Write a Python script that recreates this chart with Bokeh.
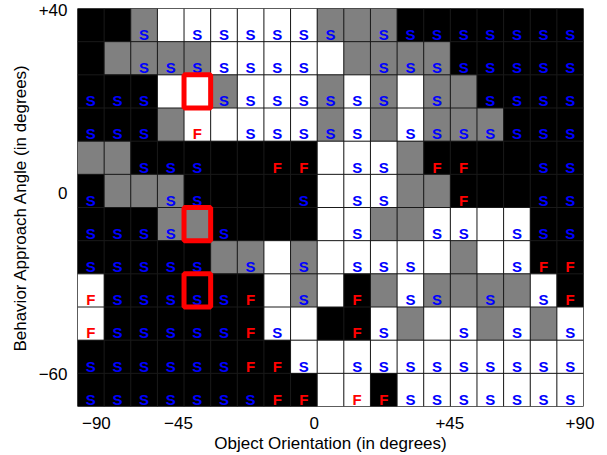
from bokeh.plotting import figure
from bokeh.models import ColumnDataSource, FixedTicker
from bokeh.embed import file_html
from bokeh.resources import INLINE
from bokeh.core.properties import value

# 19 object-orientation columns (-90 .. +90 deg), 12 approach-angle rows (top to bottom)
orientations = list(range(-90, 91, 10))

# cell shading per row: B = black, G = gray, W = white
row_shades = [
    "BBGWWWWWWGGGBBBBBBB",
    "BGGGGWWWWWGGGGBBBBB",
    "BBBWWGWWWGWGWGGBBBB",
    "BBBGWWWWWGWGWGGGBBB",
    "GGBBBBBBBWWWGBBBBBB",
    "BGGGBBBBBWWWGGBBBBB",
    "BBBGGBBBBWWGGWWWWBB",
    "BBBBBGGWGWWWWWGWWBB",
    "WBBBBBBWGWBGWGGGGWB",
    "WBBBBBBWWBBWGWWGWGW",
    "BBBBBBBBWWWWWWWWWWW",
    "BBBBBBBBBWWBWWWWWWW",
]

# outcome per cell: S = success, F = failure, . = none
row_marks = [
    "..S.SSSSSS.SSSSSSSS",
    "..SSSSSSS..SSSSSSSS",
    "SSS..SSSSSSS.S.SSSS",
    "SSS.F.SSSSS.SSSSSSS",
    "..SSS..FF.SS.FF..SS",
    "S..SS...S.SS..F..SS",
    "SSSS.S....S..SS.SSS",
    "SSSSS.S.S.SSS...SFF",
    "FSSSSSF.S.F.SS.S.SF",
    "FSSSSSFS..FS..S.S.S",
    "SSSSSSFFS.SSSSSSSSS",
    "SSSSSSSFF.FFSSSSSSS",
]

# highlighted cells (row index from top, column index from left)
highlight_rows = [2, 6, 8]
highlight_cols = [4, 4, 4]

x_tick_pos = [0.21, 3.29, 8.39, 13.48, 18.37]
x_tick_labels = ["\u221290", "\u221245", "0", "+45", "+90"]
y_tick_pos = [11.95, 6.45, 0.97]
y_tick_labels = ["+40", "0", "\u221260"]

shade_color = {"B": "#000000", "G": "#808080", "W": "#ffffff"}
mark_color = {"S": "#0000ff", "F": "#ff0000"}

n_rows = len(row_shades)
n_cols = len(orientations)

cx, cy, fills = [], [], []
tx, ty, tt, tc = [], [], [], []
for r in range(n_rows):
    for c in range(n_cols):
        yc = n_rows - 0.5 - r
        cx.append(c)
        cy.append(yc)
        fills.append(shade_color[row_shades[r][c]])
        m = row_marks[r][c]
        if m in mark_color:
            tx.append(c)
            ty.append(yc - 0.28)
            tt.append(m)
            tc.append(mark_color[m])

# cell boundary lines
gx0, gy0, gx1, gy1 = [], [], [], []
for i in range(n_cols + 1):
    gx0.append(i - 0.5); gx1.append(i - 0.5); gy0.append(0); gy1.append(n_rows)
for j in range(n_rows + 1):
    gx0.append(-0.5); gx1.append(n_cols - 0.5); gy0.append(j); gy1.append(j)

cells = ColumnDataSource(dict(x=cx, y=cy, fill=fills))
marks = ColumnDataSource(dict(x=tx, y=ty, text=tt, color=tc))
hl = ColumnDataSource(dict(x=highlight_cols, y=[n_rows - 0.5 - r for r in highlight_rows]))

p = figure(width=600, height=455, x_range=(-0.5, n_cols - 0.5), y_range=(0, n_rows),
           output_backend="svg", toolbar_location=None,
           min_border_left=77, min_border_right=17, min_border_top=8, min_border_bottom=48)

p.rect(x="x", y="y", width=1, height=1, source=cells, fill_color="fill",
       line_color=None)
p.segment(x0=gx0, y0=gy0, x1=gx1, y1=gy1, line_color="#1a1a1a", line_width=1)
p.text(x="x", y="y", text="text", source=marks, text_color="color",
       text_align="center", text_baseline="middle", text_font=value("Liberation Sans"),
       text_font_size="15px", text_font_style="bold")
p.rect(x="x", y="y", width=1, height=1, source=hl, fill_color=None,
       line_color="#ff0000", line_width=5)

p.grid.visible = False
p.outline_line_color = None
p.background_fill_color = "black"
p.border_fill_color = "white"

p.xaxis.ticker = FixedTicker(ticks=x_tick_pos)
p.xaxis.major_label_overrides = dict(zip(x_tick_pos, x_tick_labels))
p.yaxis.ticker = FixedTicker(ticks=y_tick_pos)
p.yaxis.major_label_overrides = dict(zip(y_tick_pos, y_tick_labels))

p.xaxis.axis_label = "Object Orientation (in degrees)"
p.yaxis.axis_label = "Behavior Approach Angle (in degrees)"

for ax in (p.xaxis[0], p.yaxis[0]):
    ax.axis_line_color = None
    ax.major_tick_line_color = None
    ax.minor_tick_line_color = None
    ax.major_tick_out = 0
    ax.major_tick_in = 0
    ax.minor_tick_out = 0
    ax.minor_tick_in = 0
    ax.major_label_text_font = "Liberation Sans"
    ax.major_label_text_font_size = "17px"
    ax.major_label_text_color = "black"
    ax.axis_label_text_font = "Liberation Sans"
    ax.axis_label_text_font_size = "17px"
    ax.axis_label_text_font_style = "normal"
    ax.axis_label_text_color = "black"

p.xaxis.major_label_standoff = 10
p.xaxis.axis_label_standoff = 2
p.yaxis.major_label_standoff = 10
p.yaxis.axis_label_standoff = 6

open("out.html", "w").write(file_html(p, INLINE))
